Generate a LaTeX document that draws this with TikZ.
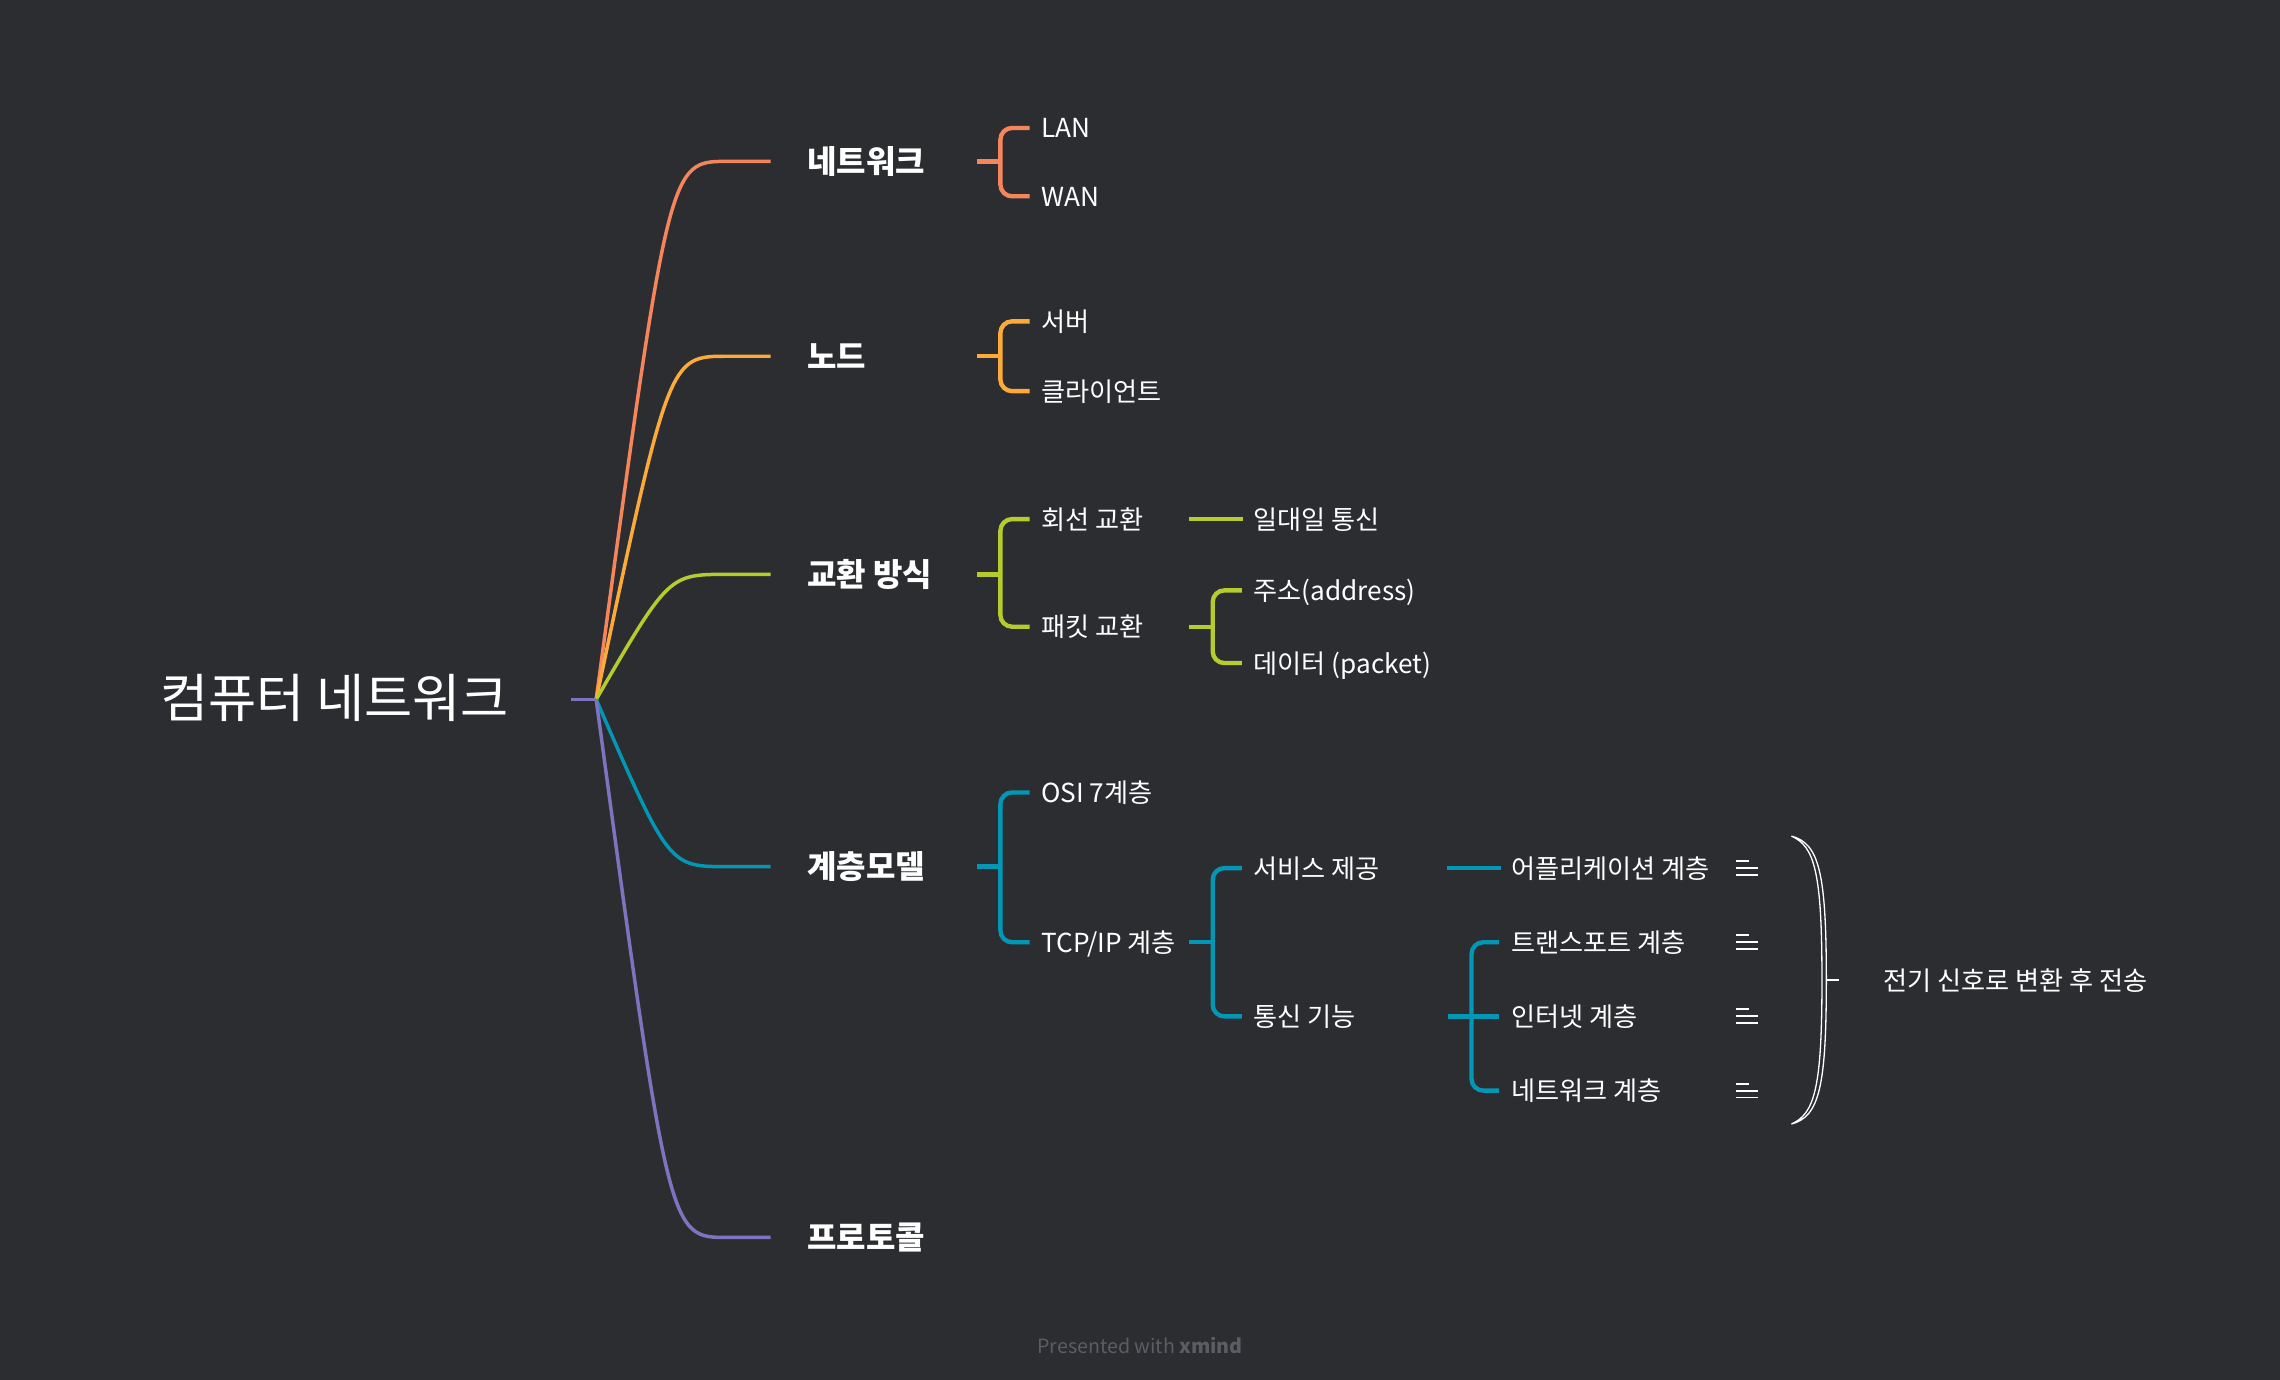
\documentclass[tikz,border=0pt]{standalone}
\usepackage{fontspec}
\setmainfont{Noto Sans CJK KR}
\usetikzlibrary{positioning}
\definecolor{bgc}{HTML}{2C2D31}
\definecolor{cnet}{HTML}{F5855B}
\definecolor{chost}{HTML}{FCAB3B}
\definecolor{cswit}{HTML}{B6CB2C}
\definecolor{clayer}{HTML}{0396B5}
\definecolor{cproto}{HTML}{7D74C0}
\definecolor{cfoot}{HTML}{5C5D62}

\begin{document}
\begin{tikzpicture}[x=1pt,y=-1pt,
    every node/.style={inner sep=0pt,anchor=west,text=white},
    rootlabel/.style={font=\fontsize{36}{36}\selectfont,text height=27.4pt,text depth=0pt},
    mainlabel/.style={font=\fontsize{22}{22}\selectfont\bfseries,text height=16.8pt,text depth=0pt},
    sublabel/.style={font=\fontsize{18}{18}\selectfont,text height=13.7pt,text depth=0pt},
    branch/.style={line width=2.4pt},
    brk/.style={line width=3pt,rounded corners=8pt},
    note/.style={white,line width=1.3pt}]
  \fill[bgc] (0,0) rectangle (1568,949);
  \useasboundingbox (0,0) rectangle (1568,949);

  \node[rootlabel] (root) at (110,480) {컴퓨터 네트워크};
  \coordinate (rs) at (393,481);
  \coordinate (o) at (410,481);

  \node[mainlabel] (netw) at (555,111) {네트워크};
  \node[mainlabel] (host) at (555,245) {노드};
  \node[mainlabel] (swit) at (555,395) {교환 방식};
  \node[mainlabel] (layer) at (555,596) {계층모델};
  \node[mainlabel] (proto) at (555,851) {프로토콜};

  \node[sublabel] (lan) at (716,88) {LAN};
  \node[sublabel] (wan) at (716,135) {WAN};
  \node[sublabel] (server) at (716,221) {서버};
  \node[sublabel] (client) at (716,269) {클라이언트};
  \node[sublabel] (circ) at (716,357) {회선 교환};
  \node[sublabel] (pack) at (716,431) {패킷 교환};
  \node[sublabel] (osi) at (716,545) {OSI 7계층};
  \node[sublabel] (tcp) at (716,648) {TCP/IP 계층};

  \node[sublabel] (one) at (862,357) {일대일 통신};
  \node[sublabel] (addr) at (862,406) {주소(address)};
  \node[sublabel] (data) at (862,456) {데이터 (packet)};
  \node[sublabel] (svc) at (862,597) {서비스 제공};
  \node[sublabel] (comm) at (862,699) {통신 기능};

  \node[sublabel] (app) at (1039,597) {어플리케이션 계층};
  \node[sublabel] (trans) at (1039,648) {트랜스포트 계층};
  \node[sublabel] (inet) at (1039,699) {인터넷 계층};
  \node[sublabel] (nlay) at (1039,750) {네트워크 계층};

  \node[sublabel] (sum) at (1295,674) {전기 신호로 변환 후 전송};

  \draw[branch,cnet] (o) .. controls ([xshift=-95pt]netw.west) and ([xshift=-95pt]netw.west) .. ([xshift=-55pt]netw.west) -- ([xshift=-25pt]netw.west);
  \draw[branch,chost] (o) .. controls ([xshift=-95pt]host.west) and ([xshift=-95pt]host.west) .. ([xshift=-55pt]host.west) -- ([xshift=-25pt]host.west);
  \draw[branch,cswit] (o) .. controls ([xshift=-95pt]swit.west) and ([xshift=-95pt]swit.west) .. ([xshift=-55pt]swit.west) -- ([xshift=-25pt]swit.west);
  \draw[branch,clayer] (o) .. controls ([xshift=-95pt]layer.west) and ([xshift=-95pt]layer.west) .. ([xshift=-55pt]layer.west) -- ([xshift=-25pt]layer.west);
  \draw[branch,cproto] (o) .. controls ([xshift=-95pt]proto.west) and ([xshift=-95pt]proto.west) .. ([xshift=-55pt]proto.west) -- ([xshift=-25pt]proto.west);
  \draw[branch,cproto] (rs) -- (o);

  \coordinate (b1) at (688,111);
  \coordinate (b2) at (688,245);
  \coordinate (b3) at (688,395);
  \coordinate (b4) at (688,596);
  \draw[brk,cnet] ([xshift=-16pt]b1) -- (b1);
  \draw[brk,cnet] ([xshift=-8pt]lan.west) -| (b1) |- ([xshift=-8pt]wan.west);
  \draw[brk,chost] ([xshift=-16pt]b2) -- (b2);
  \draw[brk,chost] ([xshift=-8pt]server.west) -| (b2) |- ([xshift=-8pt]client.west);
  \draw[brk,cswit] ([xshift=-16pt]b3) -- (b3);
  \draw[brk,cswit] ([xshift=-8pt]circ.west) -| (b3) |- ([xshift=-8pt]pack.west);
  \draw[brk,clayer] ([xshift=-16pt]b4) -- (b4);
  \draw[brk,clayer] ([xshift=-8pt]osi.west) -| (b4) |- ([xshift=-8pt]tcp.west);

  \coordinate (c1) at (834,431);
  \coordinate (c2) at (834,648);
  \draw[brk,cswit] ([xshift=-44pt]one.west) -- ([xshift=-7pt]one.west);
  \draw[brk,cswit] ([xshift=-16pt]c1) -- (c1);
  \draw[brk,cswit] ([xshift=-8pt]addr.west) -| (c1) |- ([xshift=-8pt]data.west);
  \draw[brk,clayer] ([xshift=-16pt]c2) -- (c2);
  \draw[brk,clayer] ([xshift=-8pt]svc.west) -| (c2) |- ([xshift=-8pt]comm.west);

  \coordinate (d1) at (1012,699);
  \draw[brk,clayer] ([xshift=-44pt]app.west) -- ([xshift=-7pt]app.west);
  \draw[brk,clayer] ([xshift=-16pt]d1) -- ([xshift=-8pt]inet.west);
  \draw[brk,clayer] ([xshift=-8pt]trans.west) -| (d1) |- ([xshift=-8pt]nlay.west);

  \coordinate (nx) at (1194,0);
  \foreach \n in {app,trans,inet,nlay}{
    \draw[note] ([yshift=-4.8pt]nx |- \n.west) -- ++(15,0);
    \draw[note] (nx |- \n.west) -- ++(15,0);
    \draw[note] ([yshift=4.8pt]nx |- \n.west) -- ++(9,0);
  }

  \coordinate (st) at (1232,575);
  \coordinate (sb) at (1232,773);
  \coordinate (sm) at (1256,674);
  \draw[white,line width=0.9pt] (st) .. controls (1251,580) and (1256,600) .. (sm)
    .. controls (1256,748) and (1251,768) .. (sb)
    .. controls (1248,766) and (1253,748) .. (1253,674)
    .. controls (1253,600) and (1248,582) .. (st) -- cycle;
  \draw[white,line width=1pt] (sm) -- ([xshift=-30pt]sum.west);

  \node[anchor=center,text=cfoot,font=\fontsize{13.5}{13.5}\selectfont] (foot) at (784,925) {Presented with \textbf{xmind}};
\end{tikzpicture}
\end{document}
